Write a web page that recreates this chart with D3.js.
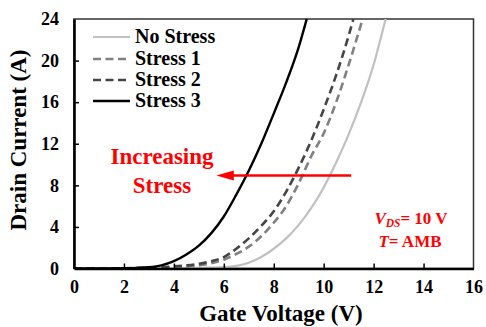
<!DOCTYPE html>
<html>
<head>
<meta charset="utf-8">
<script src="https://cdn.jsdelivr.net/npm/d3@7"></script>
<style>
  html, body { margin: 0; padding: 0; background: #fff; }
  svg { display: block; }
</style>
</head>
<body>
<div id="chart"></div>
<script>
// Transfer curves: drain current vs gate voltage after successive stress steps
const seriesNames = ["No Stress", "Stress 1", "Stress 2", "Stress 3"];

const noStressV = [0, 2, 4, 5, 5.5, 6, 6.5, 7, 7.5, 8, 8.5, 9, 9.5, 10, 10.5, 11, 11.5, 12, 12.48];
const noStressI = [0, 0.01, 0.03, 0.06, 0.09, 0.13, 0.25, 0.55, 1.1, 1.9, 2.9, 4.2, 5.8, 7.8, 10.2, 12.9, 16.0, 19.6, 24];

const stress1V = [0, 1, 2, 3, 4, 4.5, 5, 5.5, 6, 6.5, 7, 7.5, 8, 8.5, 9, 9.5, 10, 10.5, 11, 11.56];
const stress1I = [0, 0.01, 0.02, 0.05, 0.12, 0.2, 0.32, 0.5, 0.85, 1.4, 2.1, 3.1, 4.4, 6.0, 8.2, 10.8, 13.0, 16.0, 19.6, 24];

const stress2V = [0, 1, 2, 3, 3.5, 4, 4.5, 5, 5.5, 6, 6.5, 7, 7.5, 8, 8.5, 9, 9.5, 10, 10.5, 11, 11.19];
const stress2I = [0, 0.01, 0.03, 0.08, 0.13, 0.2, 0.3, 0.45, 0.7, 1.1, 1.9, 2.9, 4.1, 5.5, 7.4, 9.7, 12.3, 15.3, 18.6, 22.4, 24];

const stress3V = [0, 1, 2, 2.5, 3, 3.5, 4, 4.5, 5, 5.5, 6, 6.5, 7, 7.5, 8, 8.5, 9, 9.32];
const stress3I = [0, 0.01, 0.03, 0.06, 0.12, 0.3, 0.7, 1.35, 2.2, 3.4, 5.0, 7.1, 9.4, 12.0, 14.9, 17.9, 21.3, 24];

const xTicks = [0, 2, 4, 6, 8, 10, 12, 14, 16];
const yTicks = [0, 4, 8, 12, 16, 20, 24];

const seriesV = [noStressV, stress1V, stress2V, stress3V];
const seriesI = [noStressI, stress1I, stress2I, stress3I];
const seriesStyle = [
  { color: "#c0c0c0", width: 2.2, dash: null },
  { color: "#808080", width: 2.6, dash: "8,4.5" },
  { color: "#454545", width: 2.6, dash: "8,4.5" },
  { color: "#000000", width: 2.4, dash: null }
];

const FONT = "Liberation Serif";

const W = 486, H = 327;
const plot = { left: 74, top: 19, right: 473.5, bottom: 268.5 };

const svg = d3.select("#chart").append("svg")
  .attr("width", W).attr("height", H);

const x = d3.scaleLinear().domain([0, 16]).range([plot.left, plot.right]);
const y = d3.scaleLinear().domain([0, 24]).range([plot.bottom, plot.top]);

// Every label uses the same bold serif face
function label(sel, size) {
  return sel.attr("font-family", FONT).attr("font-weight", "bold").attr("font-size", size);
}

svg.append("defs").append("clipPath").attr("id", "plotClip")
  .append("rect")
  .attr("x", plot.left).attr("y", plot.top - 1)
  .attr("width", plot.right - plot.left).attr("height", plot.bottom - plot.top + 1);

// Frame: thin top and right edges
svg.append("rect")
  .attr("x", plot.left).attr("y", plot.top)
  .attr("width", plot.right - plot.left).attr("height", plot.bottom - plot.top)
  .attr("fill", "none").attr("stroke", "#333").attr("stroke-width", 1.5);

// Curves
const line = d3.line()
  .x(d => x(d[0])).y(d => y(d[1]))
  .curve(d3.curveMonotoneX);

const curves = svg.append("g").attr("clip-path", "url(#plotClip)");
seriesNames.forEach((name, i) => {
  const pts = seriesV[i].map((v, k) => [v, seriesI[i][k]]);
  const st = seriesStyle[i];
  curves.append("path")
    .datum(pts)
    .attr("d", line)
    .attr("fill", "none")
    .attr("stroke", st.color)
    .attr("stroke-width", st.width)
    .attr("stroke-dasharray", st.dash)
    .attr("stroke-linejoin", "round");
});

// Axes with inward ticks
const xAxis = svg.append("g")
  .attr("transform", `translate(0,${plot.bottom})`)
  .call(d3.axisBottom(x).tickValues(xTicks).tickSizeInner(-5).tickSizeOuter(0).tickPadding(12));
const yAxis = svg.append("g")
  .attr("transform", `translate(${plot.left},0)`)
  .call(d3.axisLeft(y).tickValues(yTicks).tickSizeInner(-5).tickSizeOuter(0).tickPadding(15));

[xAxis, yAxis].forEach(g => {
  g.select(".domain").attr("stroke", "#000").attr("stroke-width", 2.6);
  g.selectAll(".tick line").attr("stroke", "#000").attr("stroke-width", 1.5);
  label(g.selectAll(".tick text"), 18).attr("fill", "#000");
});
// Hide tick marks at the axis ends
xAxis.selectAll(".tick").filter(d => d === 0 || d === 16).select("line").remove();
yAxis.selectAll(".tick").filter(d => d === 0 || d === 24).select("line").remove();

// Axis titles
label(svg.append("text"), 23)
  .attr("x", 281).attr("y", 321)
  .attr("text-anchor", "middle")
  .text("Gate Voltage (V)");

label(svg.append("text"), 23)
  .attr("transform", "translate(26,140) rotate(-90)")
  .attr("text-anchor", "middle")
  .text("Drain Current (A)");

// Legend
const legend = svg.append("g");
const legendY = [37, 59, 80, 101];
seriesNames.forEach((name, i) => {
  const st = seriesStyle[i];
  legend.append("line")
    .attr("x1", 93).attr("x2", 130)
    .attr("y1", legendY[i]).attr("y2", legendY[i])
    .attr("stroke", st.color)
    .attr("stroke-width", st.width)
    .attr("stroke-dasharray", st.dash);
  label(legend.append("text"), 20)
    .attr("x", 135).attr("y", legendY[i] + 6)
    .attr("fill", "#000")
    .text(name);
});

// Shift annotation
const red = "#ff0000";
label(svg.append("text"), 23)
  .attr("x", 162).attr("y", 164)
  .attr("text-anchor", "middle")
  .attr("fill", red)
  .text("Increasing");
label(svg.append("text"), 23)
  .attr("x", 162).attr("y", 193)
  .attr("text-anchor", "middle")
  .attr("fill", red)
  .text("Stress");

const arrowY = y(8.95);
svg.append("line")
  .attr("x1", x(11.1)).attr("x2", x(6.3))
  .attr("y1", arrowY).attr("y2", arrowY)
  .attr("stroke", red).attr("stroke-width", 2.4);
svg.append("path")
  .attr("d", `M${x(5.7)},${arrowY} L${x(6.4)},${arrowY - 5} L${x(6.4)},${arrowY + 5} Z`)
  .attr("fill", red);

// Bias conditions
const vds = label(svg.append("text"), 17)
  .attr("x", 411).attr("y", 224).attr("text-anchor", "middle").attr("fill", red);
vds.append("tspan").attr("font-style", "italic").text("V");
vds.append("tspan").attr("font-style", "italic").attr("font-size", 11.5).attr("dy", 3).text("DS");
vds.append("tspan").attr("dy", -3).text("= 10 V");
const tl = label(svg.append("text"), 17)
  .attr("x", 410).attr("y", 247).attr("text-anchor", "middle").attr("fill", red);
tl.append("tspan").attr("font-style", "italic").text("T");
tl.append("tspan").text("= AMB");
</script>
</body>
</html>
